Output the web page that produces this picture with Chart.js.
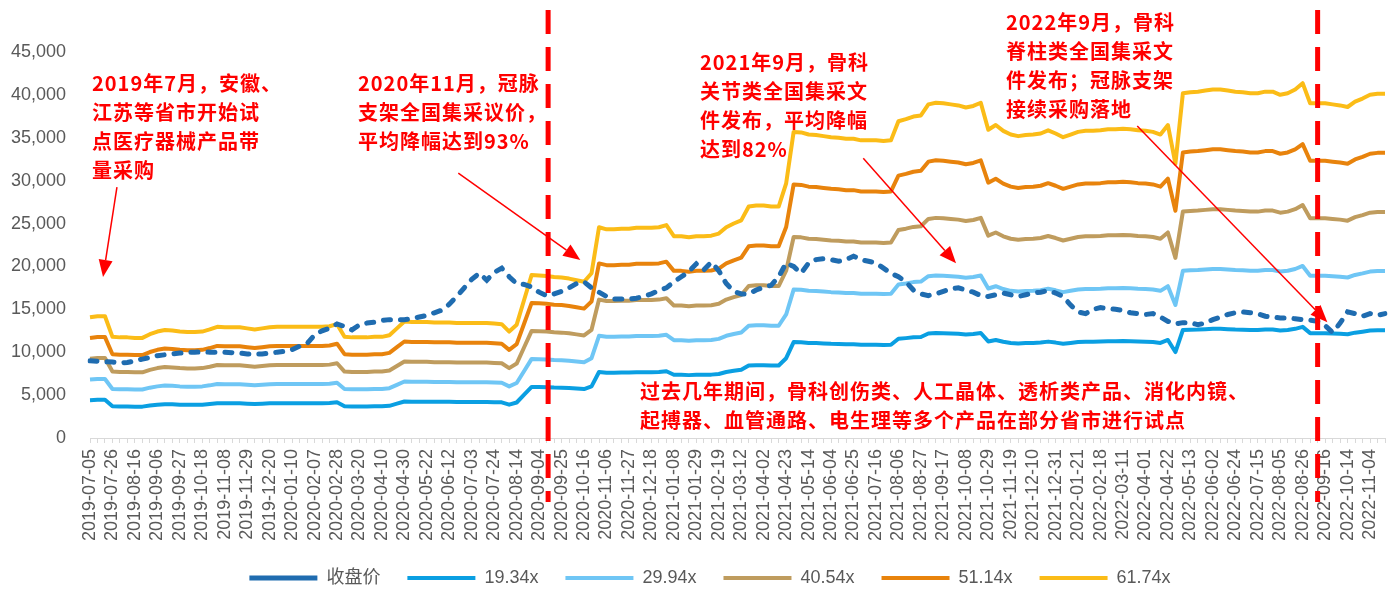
<!DOCTYPE html>
<html>
<head>
<meta charset="utf-8">
<title>PE band</title>
<script src="https://cdn.jsdelivr.net/npm/chart.js@4.4.1/dist/chart.umd.min.js"></script>
<style>
  html, body { margin: 0; padding: 0; background: #ffffff; }
  #wrap { width: 1397px; height: 591px; }
</style>
</head>
<body>
<div id="wrap"><canvas id="myChart" width="1397" height="591"></canvas></div>
<script>
// weekly trading dates (last trading day of each week)
const dates = [
  '2019-07-05','2019-07-12','2019-07-19','2019-07-26','2019-08-02','2019-08-09','2019-08-16','2019-08-23','2019-08-30','2019-09-06',
  '2019-09-12','2019-09-20','2019-09-27','2019-09-30','2019-10-11','2019-10-18','2019-10-25','2019-11-01','2019-11-08','2019-11-15',
  '2019-11-22','2019-11-29','2019-12-06','2019-12-13','2019-12-20','2019-12-27','2020-01-03','2020-01-10','2020-01-17','2020-01-23',
  '2020-02-07','2020-02-14','2020-02-21','2020-02-28','2020-03-06','2020-03-13','2020-03-20','2020-03-27','2020-04-03','2020-04-10',
  '2020-04-17','2020-04-24','2020-04-30','2020-05-08','2020-05-15','2020-05-22','2020-05-29','2020-06-05','2020-06-12','2020-06-19',
  '2020-06-24','2020-07-03','2020-07-10','2020-07-17','2020-07-24','2020-07-31','2020-08-07','2020-08-14','2020-08-21','2020-08-28',
  '2020-09-04','2020-09-11','2020-09-18','2020-09-25','2020-09-30','2020-10-09','2020-10-16','2020-10-23','2020-10-30','2020-11-06',
  '2020-11-13','2020-11-20','2020-11-27','2020-12-04','2020-12-11','2020-12-18','2020-12-25','2020-12-31','2021-01-08','2021-01-15',
  '2021-01-22','2021-01-29','2021-02-05','2021-02-10','2021-02-19','2021-02-26','2021-03-05','2021-03-12','2021-03-19','2021-03-26',
  '2021-04-02','2021-04-09','2021-04-16','2021-04-23','2021-04-30','2021-05-07','2021-05-14','2021-05-21','2021-05-28','2021-06-04',
  '2021-06-11','2021-06-18','2021-06-25','2021-07-02','2021-07-09','2021-07-16','2021-07-23','2021-07-30','2021-08-06','2021-08-13',
  '2021-08-20','2021-08-27','2021-09-03','2021-09-10','2021-09-17','2021-09-24','2021-09-30','2021-10-08','2021-10-15','2021-10-22',
  '2021-10-29','2021-11-05','2021-11-12','2021-11-19','2021-11-26','2021-12-03','2021-12-10','2021-12-17','2021-12-24','2021-12-31',
  '2022-01-07','2022-01-14','2022-01-21','2022-01-28','2022-02-11','2022-02-18','2022-02-25','2022-03-04','2022-03-11','2022-03-18',
  '2022-03-25','2022-04-01','2022-04-08','2022-04-15','2022-04-22','2022-04-29','2022-05-06','2022-05-13','2022-05-20','2022-05-27',
  '2022-06-02','2022-06-10','2022-06-17','2022-06-24','2022-07-01','2022-07-08','2022-07-15','2022-07-22','2022-07-29','2022-08-05',
  '2022-08-12','2022-08-19','2022-08-26','2022-09-02','2022-09-09','2022-09-16','2022-09-23','2022-09-30','2022-10-14','2022-10-21',
  '2022-10-28','2022-11-04','2022-11-11','2022-11-18'
];

// 收盘价
const closePrice = [
  9000, 8950, 8900, 8850, 8750, 8800, 9000, 9200, 9400, 9600,
  9700, 9800, 9900, 10000, 10000, 10050, 10000, 10000, 10000, 9950,
  9900, 9800, 9800, 9800, 9900, 10000, 10100, 10300, 10700, 11000,
  12000, 12500, 12800, 13300, 13000, 12600, 13200, 13400, 13500, 13700,
  13800, 13800, 13800, 13900, 14100, 14300, 14600, 14900, 15600, 16500,
  17500, 18500, 19200, 18400, 19300, 19800, 18800, 18000, 17900, 17600,
  17000, 16600, 16800, 17100, 17500, 18000, 18200, 17500, 17000, 16500,
  16200, 16200, 16200, 16300, 16500, 16800, 17200, 17500, 18200, 18800,
  19400, 20300, 19600, 20500, 19500, 18000, 17100, 16800, 16800, 17250,
  17600, 17800, 18800, 20400, 20000, 19200, 20400, 20800, 20900, 20800,
  20600, 20800, 21200, 20800, 20600, 20400, 19800, 19200, 18800, 18200,
  17250, 16800, 16600, 16800, 17100, 17400, 17500, 17250, 17000, 16600,
  16500, 16700, 16900, 16700, 16500, 16700, 16900, 17000, 17200, 16900,
  16500, 15500, 14700, 14500, 15000, 15200, 15100, 15000, 14850, 14600,
  14500, 14400, 14500, 14100, 13600, 13300, 13450, 13450, 13200, 13400,
  13800, 14100, 14400, 14600, 14700, 14600, 14500, 14200, 14100, 14000,
  14000, 13900, 13800, 13750, 13600, 13100, 12300, 13400, 14700, 14500,
  14200, 14500, 14300, 14500
];

// 每股收益 (band = eps x multiple)
const eps = [
  228, 230, 230, 191, 190, 190, 189, 189, 196, 201,
  204, 203, 201, 200, 200, 201, 205, 210, 209, 209,
  209, 207, 205, 207, 209, 210, 210, 210, 210, 210,
  210, 210, 211, 215, 191, 190, 190, 190, 191, 191,
  194, 207, 220, 219, 219, 219, 218, 218, 218, 217,
  217, 217, 217, 217, 216, 215, 201, 214, 261, 308,
  307, 306, 304, 303, 301, 298, 295, 311, 398, 394,
  394, 395, 395, 397, 397, 397, 398, 402, 381, 381,
  379, 381, 381, 382, 386, 398, 405, 411, 437, 439,
  439, 437, 437, 481, 578, 577, 573, 572, 570, 568,
  567, 565, 565, 562, 562, 562, 561, 562, 598, 602,
  607, 609, 630, 633, 632, 630, 628, 624, 627, 633,
  582, 591, 580, 573, 570, 572, 573, 575, 581, 575,
  568, 573, 578, 580, 580, 581, 583, 583, 584, 583,
  581, 580, 578, 573, 591, 518, 651, 653, 654, 656,
  658, 658, 656, 654, 653, 651, 651, 654, 654, 648,
  651, 658, 670, 632, 632, 632, 630, 628, 625, 635,
  641, 648, 650, 650
];

const multiples = [19.34, 29.94, 40.54, 51.14, 61.74];
const bandColors = ['#0a9fe2', '#6fc6f5', '#bf9c5e', '#e8830c', '#fbbc17'];

// annotations
const notes = [
  { x: 92, y: 83, lines: ['2019年7月，安徽、', '江苏等省市开始试', '点医疗器械产品带', '量采购'] },
  { x: 358, y: 83, lines: ['2020年11月，冠脉', '支架全国集采议价，', '平均降幅达到93%'] },
  { x: 700, y: 62, lines: ['2021年9月，骨科', '关节类全国集采文', '件发布，平均降幅', '达到82%'] },
  { x: 1006, y: 22, lines: ['2022年9月，骨科', '脊柱类全国集采文', '件发布；冠脉支架', '接续采购落地'] },
  { x: 640, y: 391, lines: ['过去几年期间，骨科创伤类、人工晶体、透析类产品、消化内镜、', '起搏器、血管通路、电生理等多个产品在部分省市进行试点'] }
];
const arrows = [
  { from: [3.6, 29260], to: [1.74, 18770] },
  { from: [49.2, 30890], to: [65.5, 20750] },
  { from: [103.3, 32610], to: [115.7, 20370] },
  { from: [139.9, 36370], to: [165.3, 13500] }
];
const eventLines = [61.2, 164.0];

const notePlugin = {
  id: 'notes',
  afterLayout(chart) {
    // let the y tick labels use the space left of the axis box
    chart.scales.y.left = 0;
  },
  afterDraw(chart) {
    const { ctx, scales: { x, y } } = chart;
    ctx.save();
    // red dashed event lines
    ctx.strokeStyle = '#ff0000';
    ctx.lineWidth = 5;
    ctx.setLineDash([24, 13]);
    eventLines.forEach(v => {
      const px = x.getPixelForValue(v);
      ctx.beginPath();
      ctx.moveTo(px, 10);
      ctx.lineTo(px, 502);
      ctx.stroke();
    });
    ctx.setLineDash([]);

    // arrows
    ctx.fillStyle = '#ff0000';
    ctx.lineWidth = 1.5;
    arrows.forEach(a => {
      const x0 = x.getPixelForValue(a.from[0]), y0 = y.getPixelForValue(a.from[1]);
      const x1 = x.getPixelForValue(a.to[0]), y1 = y.getPixelForValue(a.to[1]);
      const ang = Math.atan2(y1 - y0, x1 - x0);
      const len = 17, half = 7;
      const bx = x1 - Math.cos(ang) * len, by = y1 - Math.sin(ang) * len;
      ctx.beginPath();
      ctx.moveTo(x0, y0);
      ctx.lineTo(bx, by);
      ctx.stroke();
      ctx.beginPath();
      ctx.moveTo(x1, y1);
      ctx.lineTo(bx + Math.sin(ang) * half, by - Math.cos(ang) * half);
      ctx.lineTo(bx - Math.sin(ang) * half, by + Math.cos(ang) * half);
      ctx.closePath();
      ctx.fill();
    });

    // text
    ctx.font = 'bold 20px "Noto Sans CJK SC", sans-serif';
    if ('letterSpacing' in ctx) ctx.letterSpacing = '1px';
    ctx.textBaseline = 'middle';
    ctx.textAlign = 'left';
    notes.forEach(n => {
      n.lines.forEach((t, i) => ctx.fillText(t, n.x, n.y + i * 29));
    });
    ctx.restore();
  }
};

Chart.defaults.font.family = '"Liberation Sans", "Noto Sans CJK SC", sans-serif';
Chart.defaults.color = '#595959';

const datasets = [{
  label: '收盘价',
  data: closePrice,
  borderColor: '#1f6cb0',
  backgroundColor: '#1f6cb0',
  borderWidth: 5,
  borderDash: [7, 10],
  borderCapStyle: 'round',
  pointRadius: 0,
  tension: 0
}].concat(multiples.map((m, i) => ({
  label: m + 'x',
  data: eps.map(e => Math.round(e * m)),
  borderColor: bandColors[i],
  backgroundColor: bandColors[i],
  borderWidth: 4,
  borderJoinStyle: 'round',
  pointRadius: 0,
  tension: 0
})));

const ctx = document.getElementById('myChart').getContext('2d');
const myChart = new Chart(ctx, {
  type: 'line',
  data: { labels: dates, datasets: datasets },
  options: {
    responsive: false,
    animation: false,
    layout: { padding: { top: 52, left: 35, right: 12, bottom: -6 } },
    plugins: {
      tooltip: { enabled: false },
      legend: {
        position: 'bottom',
        labels: {
          usePointStyle: true,
          pointStyle: 'line',
          pointStyleWidth: 68,
          padding: 27,
          color: '#595959',
          font: { size: 18 }
        }
      }
    },
    scales: {
      x: {
        ticks: {
          autoSkip: false,
          minRotation: 90,
          maxRotation: 90,
          padding: 6,
          color: '#595959',
          font: { size: 18 },
          callback: function (v, i) { return i % 3 === 0 ? this.getLabelForValue(v) : ''; }
        },
        grid: { drawOnChartArea: false, drawTicks: true, tickLength: 5, color: '#d9d9d9' },
        border: { color: '#d9d9d9', width: 1 },
        afterFit(s) { s.height = 104; s.paddingLeft = 0; s.paddingRight = 0; }
      },
      y: {
        min: 0,
        max: 45000,
        ticks: {
          stepSize: 5000,
          padding: 24,
          color: '#595959',
          font: { size: 18 },
          callback: v => v.toLocaleString('en-US')
        },
        grid: { display: false, drawTicks: false },
        border: { display: false },
        afterFit(s) { s.width = 55; }
      }
    }
  },
  plugins: [notePlugin]
});
</script>
</body>
</html>
